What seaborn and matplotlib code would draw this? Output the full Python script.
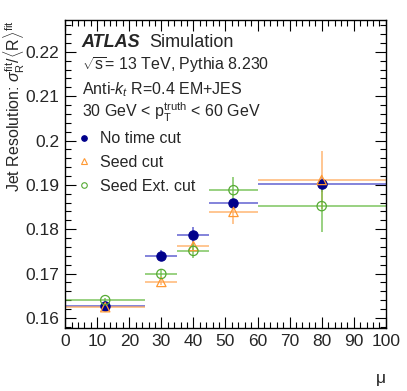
import numpy as np
import pandas as pd
import matplotlib
matplotlib.use("Agg")
import matplotlib.pyplot as plt
import seaborn as sns
from matplotlib.lines import Line2D
from matplotlib.ticker import MultipleLocator

# mu bins
bin_lo = [0, 25, 35, 45, 60]
bin_hi = [25, 35, 45, 60, 100]

# resolution values
no_cut = [0.1626, 0.1740, 0.1786, 0.1858, 0.1901]
no_cut_err = [0.0004, 0.0012, 0.0018, 0.0008, 0.0017]
seed_cut = [0.1624, 0.1681, 0.1762, 0.1839, 0.1911]
seed_cut_err = [0.0008, 0.0008, 0.0010, 0.0027, 0.0065]
seed_ext = [0.1640, 0.1699, 0.1751, 0.1888, 0.1852]
seed_ext_err = [0.0005, 0.0010, 0.0017, 0.0029, 0.0058]

labels = ["No time cut", "Seed cut", "Seed Ext. cut"]

sns.set_style("ticks")
plt.rcParams["font.family"] = ["Liberation Sans", "DejaVu Sans"]
plt.rcParams["mathtext.fontset"] = "custom"
plt.rcParams["mathtext.rm"] = "Liberation Sans"
plt.rcParams["mathtext.it"] = "Liberation Sans:italic"

fig = plt.figure(figsize=(4.07, 3.91), dpi=100)
ax = fig.add_axes([0.160, 0.161, 0.788, 0.788])

lo = np.array(bin_lo)
hi = np.array(bin_hi)
centers = (lo + hi) / 2
xerr = (hi - lo) / 2

series = [
    (no_cut, no_cut_err, "#00008b", "#4646c8", "o", True),
    (seed_cut, seed_cut_err, "#ff9933", "#ffaa5c", "^", False),
    (seed_ext, seed_ext_err, "#55aa33", "#66bb44", "o", False),
]

handles = []
for (vals, errs, mcol, lcol, mk, filled), lab in zip(series, labels):
    ax.errorbar(centers, vals, xerr=xerr, yerr=errs, fmt="none",
                ecolor=lcol, elinewidth=1.1, alpha=0.85, capsize=0, zorder=2)
    df = pd.DataFrame({"mu": centers, "res": vals})
    if filled:
        sns.scatterplot(data=df, x="mu", y="res", ax=ax, marker=mk, s=45,
                        color=mcol, edgecolor=mcol, linewidth=0.8, zorder=3)
    else:
        sns.scatterplot(data=df, x="mu", y="res", ax=ax, marker=mk, s=45,
                        fc="none", edgecolor=mcol, linewidth=0.9, zorder=3)
    handles.append(Line2D([], [], linestyle="none", marker=mk, markersize=4,
                          markerfacecolor=mcol if filled else "none",
                          markeredgecolor=mcol, markeredgewidth=0.8, label=lab))

ax.set_xlim(0, 100)
ax.set_ylim(0.1577, 0.2272)
ax.xaxis.set_major_locator(MultipleLocator(10))
ax.xaxis.set_minor_locator(MultipleLocator(2))
ax.yaxis.set_major_locator(MultipleLocator(0.01))
ax.yaxis.set_minor_locator(MultipleLocator(0.002))
ax.set_yticks([0.16, 0.17, 0.18, 0.19, 0.20, 0.21, 0.22])
ax.set_yticklabels(["0.16", "0.17", "0.18", "0.19", "0.2", "0.21", "0.22"])
ax.tick_params(which="both", direction="in", top=True, right=True,
               labelsize=12.5, color="black", width=0.8)
ax.tick_params(which="major", length=8, pad=4)
ax.tick_params(which="minor", length=4)
for sp in ax.spines.values():
    sp.set_linewidth(1.0)
    sp.set_color("black")

ax.set_xlabel("μ", fontsize=12.5, loc="right")
ax.set_ylabel(r"Jet Resolution: $\sigma_{\mathrm{R}}^{\mathrm{fit}}/\langle\mathrm{R}\rangle^{\mathrm{fit}}$",
              fontsize=11.5, loc="top")
ax.yaxis.set_label_coords(-0.12, 1.0)
ax.xaxis.set_label_coords(1.0, -0.14)

tx = 0.052
ax.text(tx, 0.912, "ATLAS", transform=ax.transAxes, fontsize=13,
        fontweight="bold", fontstyle="italic", va="baseline")
ax.text(tx + 0.21, 0.912, "Simulation", transform=ax.transAxes, fontsize=13,
        va="baseline")
ax.text(tx, 0.838, r"$\sqrt{\mathrm{s}}$= 13 TeV, Pythia 8.230", transform=ax.transAxes,
        fontsize=11.5, va="baseline")
ax.text(tx, 0.759, r"Anti-$k_{t}$ R=0.4 EM+JES", transform=ax.transAxes,
        fontsize=11.5, va="baseline")
ax.text(tx, 0.684, r"30 GeV < p$_{\mathrm{T}}^{\mathrm{truth}}$ < 60 GeV",
        transform=ax.transAxes, fontsize=11.5, va="baseline")

ax.legend(handles=handles, loc="upper left", bbox_to_anchor=(0.0, 0.675),
          frameon=False, fontsize=11.5, handlelength=1.0, handletextpad=0.5,
          labelspacing=0.55, borderaxespad=0.3)

fig.savefig("out.png", dpi=100)
